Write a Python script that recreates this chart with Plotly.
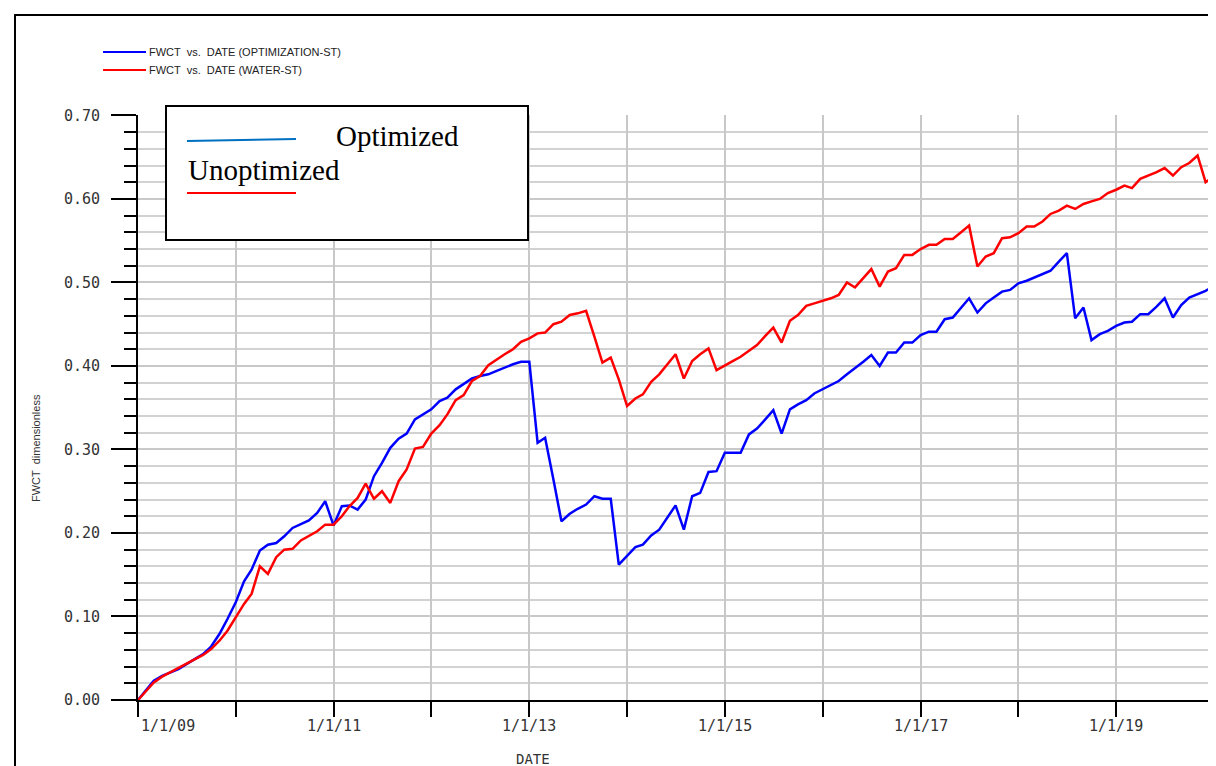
import pandas as pd
import plotly.graph_objects as go

# ---------------- data (monthly, 1/1/2009 .. 1/1/2020) ----------------
start_date = "2009-01-01"
n_months = 133
fwct_optimization = [
    0.000, 0.012, 0.023, 0.029, 0.033, 0.037, 0.043, 0.049, 0.055, 0.064, 0.079, 0.097,
    0.117, 0.142, 0.156, 0.179, 0.186, 0.188, 0.196, 0.206, 0.211, 0.215, 0.224, 0.238,
    0.209, 0.232, 0.233, 0.228, 0.240, 0.268, 0.284, 0.302, 0.313, 0.319, 0.336, 0.342,
    0.348, 0.358, 0.362, 0.372, 0.378, 0.385, 0.388, 0.390, 0.394, 0.398, 0.402, 0.405,
    0.405, 0.308, 0.314, 0.264, 0.214, 0.223, 0.229, 0.234, 0.244, 0.241, 0.241, 0.162,
    0.172, 0.183, 0.186, 0.197, 0.204, 0.218, 0.233, 0.204, 0.244, 0.248, 0.273, 0.274,
    0.296, 0.296, 0.296, 0.318, 0.325, 0.336, 0.347, 0.319, 0.348, 0.354, 0.359, 0.367,
    0.372, 0.377, 0.382, 0.390, 0.397, 0.405, 0.413, 0.400, 0.416, 0.416, 0.428, 0.428,
    0.437, 0.441, 0.441, 0.456, 0.458, 0.470, 0.481, 0.464, 0.475, 0.482, 0.489, 0.491,
    0.499, 0.502, 0.506, 0.510, 0.514, 0.525, 0.535, 0.457, 0.470, 0.431, 0.438, 0.442,
    0.448, 0.452, 0.453, 0.462, 0.462, 0.471, 0.481, 0.458, 0.473, 0.482, 0.486, 0.490, 0.496,
]
fwct_water = [
    0.000, 0.011, 0.021, 0.028, 0.033, 0.038, 0.044, 0.049, 0.054, 0.061, 0.071, 0.083,
    0.099, 0.115, 0.127, 0.160, 0.151, 0.171, 0.180, 0.181, 0.191, 0.196, 0.202, 0.210,
    0.210, 0.220, 0.232, 0.242, 0.259, 0.241, 0.250, 0.236, 0.262, 0.276, 0.301, 0.303,
    0.319, 0.329, 0.342, 0.359, 0.365, 0.382, 0.388, 0.401, 0.408, 0.414, 0.420, 0.429,
    0.433, 0.439, 0.440, 0.450, 0.453, 0.461, 0.463, 0.466, 0.435, 0.404, 0.410, 0.384,
    0.352, 0.361, 0.366, 0.381, 0.390, 0.402, 0.414, 0.385, 0.406, 0.414, 0.421, 0.395,
    0.400, 0.406, 0.411, 0.418, 0.425, 0.436, 0.446, 0.428, 0.454, 0.461, 0.472, 0.475,
    0.478, 0.481, 0.485, 0.500, 0.494, 0.505, 0.516, 0.495, 0.513, 0.517, 0.533, 0.533,
    0.540, 0.545, 0.545, 0.552, 0.552, 0.560, 0.568, 0.519, 0.531, 0.535, 0.553, 0.554,
    0.559, 0.567, 0.567, 0.573, 0.582, 0.586, 0.592, 0.588, 0.594, 0.597, 0.600, 0.607,
    0.611, 0.616, 0.613, 0.624, 0.628, 0.632, 0.637, 0.628, 0.638, 0.643, 0.652, 0.620, 0.627,
]
label_years = [2009, 2011, 2013, 2015, 2017, 2019]
x_tick_labels = ["1/1/09", "1/1/11", "1/1/13", "1/1/15", "1/1/17", "1/1/19"]
series_names = ["FWCT  vs.  DATE (OPTIMIZATION-ST)", "FWCT  vs.  DATE (WATER-ST)"]
box_labels = ["Optimized", "Unoptimized"]

dates = pd.date_range(start_date, periods=n_months, freq="MS")

# ---------------- layout geometry ----------------
W, H = 1216, 766
L, R, T, B = 130, 10, 107, 74
PW, PH = W - L - R, H - T - B


def px(x):
    return (x - L) / PW


def py(y):
    return (H - B - y) / PH


MONO = "DejaVu Sans Mono"
SANS = "Liberation Sans"
SERIF = "Liberation Serif"

fig = go.Figure()
fig.add_trace(go.Scatter(x=dates, y=fwct_optimization, mode="lines", name=series_names[0],
                         line=dict(color="#0000ff", width=2.5), showlegend=False))
fig.add_trace(go.Scatter(x=dates, y=fwct_water, mode="lines", name=series_names[1],
                         line=dict(color="#ff0000", width=2.5), showlegend=False))

shapes = []
# outer frame of the picture
shapes.append(dict(type="rect", xref="paper", yref="paper", x0=px(7), x1=px(1210),
                   y0=py(790), y1=py(7), line=dict(color="black", width=2),
                   fillcolor="rgba(0,0,0,0)", layer="above"))
# top legend sample lines
shapes.append(dict(type="line", xref="paper", yref="paper", x0=px(95), x1=px(138),
                   y0=py(44), y1=py(44), line=dict(color="#0000ff", width=2)))
shapes.append(dict(type="line", xref="paper", yref="paper", x0=px(95), x1=px(138),
                   y0=py(62), y1=py(62), line=dict(color="#ff0000", width=2)))
# inset legend box
shapes.append(dict(type="rect", xref="paper", yref="paper", x0=px(158), x1=px(520),
                   y0=py(232), y1=py(98), line=dict(color="black", width=2),
                   fillcolor="white", layer="above"))
shapes.append(dict(type="line", xref="paper", yref="paper", x0=px(179), x1=px(288),
                   y0=py(133), y1=py(131), line=dict(color="#0070c0", width=2), layer="above"))
shapes.append(dict(type="line", xref="paper", yref="paper", x0=px(179), x1=px(288),
                   y0=py(185), y1=py(185), line=dict(color="#ff0000", width=2), layer="above"))

annotations = []
# top legend texts
for name, yy in zip(series_names, [44, 62]):
    annotations.append(dict(text=name, xref="paper", yref="paper", x=px(139), y=py(yy),
                            xanchor="left", yanchor="middle", showarrow=False,
                            font=dict(family=SANS, size=11, color="#222")))
# inset legend texts
annotations.append(dict(text=box_labels[0], xref="paper", yref="paper", x=px(326), y=py(128),
                        xanchor="left", yanchor="middle", showarrow=False,
                        font=dict(family=SERIF, size=29, color="black")))
annotations.append(dict(text=box_labels[1], xref="paper", yref="paper", x=px(178), y=py(162),
                        xanchor="left", yanchor="middle", showarrow=False,
                        font=dict(family=SERIF, size=29, color="black")))
# x tick labels
for yr, lab in zip(label_years, x_tick_labels):
    first = yr == label_years[0]
    annotations.append(dict(text=lab, xref="x", yref="paper", x=f"{yr}-01-01", y=py(718),
                            xanchor="left" if first else "center", yanchor="middle",
                            xshift=1 if first else 0, showarrow=False,
                            font=dict(family=MONO, size=15, color="#333")))
# axis titles
annotations.append(dict(text="DATE", xref="paper", yref="paper", x=px(525), y=py(751),
                        xanchor="center", yanchor="middle", showarrow=False,
                        font=dict(family=MONO, size=14, color="#333")))
annotations.append(dict(text="FWCT  dimensionless", xref="paper", yref="paper", x=px(28), y=py(440),
                        xanchor="center", yanchor="middle", showarrow=False, textangle=-90,
                        font=dict(family=SANS, size=11, color="#333")))

GRID = "#c8c8c8"
fig.update_layout(
    width=W, height=H,
    margin=dict(l=L, r=R, t=T, b=B, pad=0),
    paper_bgcolor="white", plot_bgcolor="white",
    shapes=shapes, annotations=annotations,
    xaxis=dict(type="date", range=["2009-01-01", "2020-01-01 08:00"],
               dtick="M12", tick0="2009-01-01",
               showgrid=True, gridcolor=GRID, gridwidth=2,
               ticks="outside", ticklen=15, tickwidth=2, tickcolor="black",
               showline=True, linecolor="black", linewidth=2,
               showticklabels=False, zeroline=False),
    yaxis=dict(range=[0, 0.7005], dtick=0.1, tick0=0, tickformat=".2f",
               showgrid=True, gridcolor=GRID, gridwidth=2,
               ticks="outside", ticklen=25, tickwidth=2, tickcolor="black",
               showline=True, linecolor="black", linewidth=2, zeroline=False,
               ticklabelstandoff=8,
               tickfont=dict(family=MONO, size=15, color="#333"),
               minor=dict(dtick=0.02, tick0=0, ticks="outside", ticklen=12, tickwidth=2,
                          tickcolor="black", showgrid=True, gridcolor="#d2d2d2", gridwidth=2)),
)

fig.write_html("out.html")
